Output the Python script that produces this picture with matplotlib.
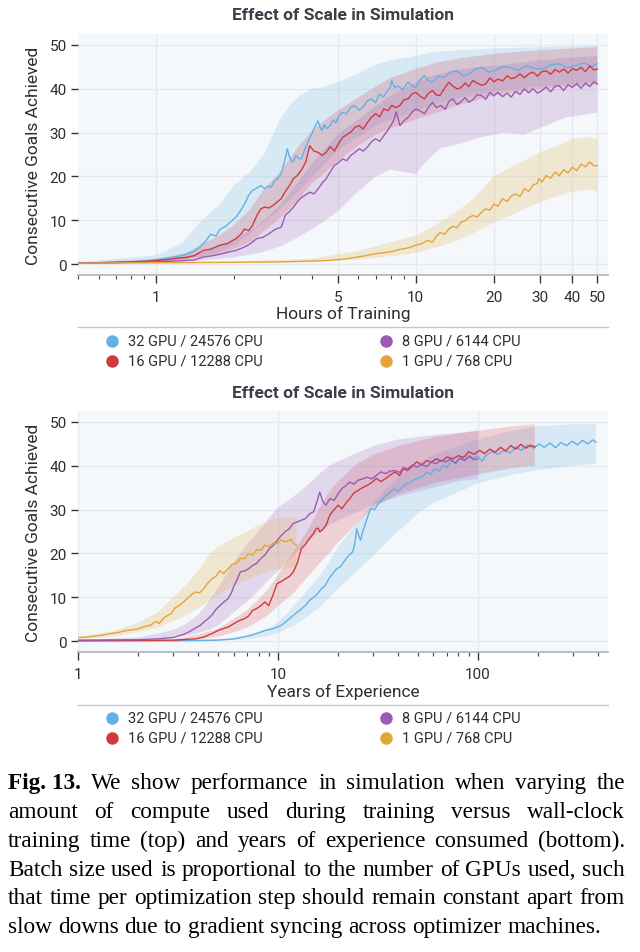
import numpy as np
import matplotlib
matplotlib.use("Agg")
import matplotlib.pyplot as plt
from matplotlib.lines import Line2D
from matplotlib.ticker import FixedLocator, NullFormatter, LogLocator, FixedFormatter

# ---------------- data ----------------
series_names = ["32 GPU / 24576 CPU", "16 GPU / 12288 CPU", "8 GPU / 6144 CPU", "1 GPU / 768 CPU"]
series_colors = ["#63b0e4", "#d2393f", "#9b5bb3", "#e3a537"]

# Top panel: hours of training -> consecutive goals (mean line)
top_blue = [(0.5,0.2),(0.6,0.3),(0.7,0.4),(0.8,0.5),(0.9,0.7),(1.0,1.0),(1.1,1.3),(1.2,1.7),(1.3,2.2),(1.4,2.9),(1.47,3.8),(1.55,5.2),(1.62,6.8),(1.7,6.4),(1.76,7.9),(1.85,8.6),(1.95,9.8),(2.03,10.7),(2.12,12.3),(2.2,13.9),(2.27,15.7),(2.35,16.8),(2.45,17.4),(2.53,17.9),(2.62,17.2),(2.7,17.8),(2.77,17.5),(2.85,18.9),(2.95,19.6),(3.03,20.6),(3.1,22.8),(3.14,24.0),(3.2,26.3),(3.26,24.5),(3.32,23.4),(3.38,23.3),(3.45,24.8),(3.55,24.1),(3.63,24.0),(3.72,25.9),(3.8,27.2),(3.9,28.6),(4.0,30.1),(4.1,31.5),(4.2,32.7),(4.28,31.2),(4.36,30.5),(4.45,31.8),(4.55,30.9),(4.68,31.6),(4.8,32.9),(4.92,32.2),(5.03,33.5),(5.2,34.6),(5.41,34.3),(5.6,35.7),(5.82,36.2),(6.05,35.1),(6.26,35.8),(6.5,37.2),(6.73,37.7),(7.0,36.8),(7.24,38.8),(7.5,38.1),(7.79,39.6),(8.0,40.5),(8.08,41.9),(8.3,40.2),(8.52,40.7),(8.9,39.8),(9.34,41.5),(9.7,40.6),(10.0,40.3),(10.4,42.1),(10.8,43.0),(11.2,41.8),(11.6,41.5),(12.2,42.9),(12.9,42.6),(13.6,43.8),(14.4,44.1),(15.2,42.9),(16.1,43.4),(17.0,44.5),(18.0,44.9),(19.0,43.8),(20.0,44.1),(21.5,45.0),(23.1,44.9),(24.8,44.2),(26.7,45.3),(28.8,44.6),(30.9,44.5),(33.2,45.5),(35.7,45.7),(38.4,44.8),(41.3,45.3),(44.5,45.9),(47.5,45.1),(50.0,45.7)]
top_red = [(0.5,0.2),(0.6,0.3),(0.7,0.4),(0.8,0.5),(0.9,0.6),(1.0,0.8),(1.1,1.0),(1.2,1.3),(1.3,1.5),(1.4,1.9),(1.52,3.1),(1.62,3.4),(1.76,4.3),(1.88,4.7),(2.03,5.8),(2.12,6.8),(2.19,8.0),(2.27,7.6),(2.35,8.8),(2.44,11.0),(2.53,12.6),(2.62,13.0),(2.72,12.8),(2.82,13.4),(2.93,14.2),(3.03,14.9),(3.14,16.5),(3.26,17.9),(3.38,19.5),(3.5,20.2),(3.63,21.5),(3.77,23.3),(3.9,27.0),(4.05,25.8),(4.2,25.5),(4.36,24.8),(4.52,25.5),(4.68,26.8),(4.86,25.8),(5.05,27.6),(5.23,28.9),(5.42,29.5),(5.62,30.1),(5.83,31.2),(6.05,31.6),(6.27,30.8),(6.51,32.3),(6.75,33.5),(7.0,34.3),(7.26,33.6),(7.53,35.4),(7.8,35.0),(8.08,36.2),(8.38,35.7),(8.69,36.2),(9.0,37.5),(9.34,37.7),(9.67,38.8),(10.0,39.2),(10.4,38.3),(10.8,37.7),(11.2,39.0),(11.6,39.6),(12.0,38.6),(12.4,38.5),(12.9,40.1),(13.4,41.5),(13.9,40.6),(14.4,40.0),(14.9,40.2),(15.5,41.3),(16.0,40.5),(16.6,41.9),(17.2,41.3),(17.9,40.8),(18.6,41.1),(19.3,42.5),(20.0,41.6),(20.7,42.2),(21.6,41.8),(22.5,43.0),(23.3,42.3),(24.2,42.6),(25.2,43.4),(26.2,42.5),(27.2,43.4),(28.3,43.8),(29.4,42.9),(30.6,43.9),(31.8,44.1),(33.1,43.3),(34.4,44.4),(35.7,43.8),(37.1,44.5),(38.6,43.6),(40.1,44.6),(41.7,44.2),(43.3,44.9),(45.0,43.9),(46.8,45.2),(48.5,44.3),(50.0,44.5)]
top_purple = [(0.5,0.2),(0.6,0.25),(0.7,0.3),(0.8,0.4),(0.9,0.45),(1.0,0.5),(1.2,0.7),(1.4,0.9),(1.52,1.6),(1.65,1.9),(1.78,2.3),(1.89,2.7),(2.03,3.1),(2.19,3.9),(2.3,4.6),(2.44,5.8),(2.58,6.1),(2.72,6.9),(2.85,7.8),(2.93,8.1),(3.03,8.4),(3.08,9.5),(3.14,11.1),(3.26,12.0),(3.38,13.0),(3.5,14.2),(3.63,15.2),(3.77,15.8),(3.9,16.4),(4.05,16.0),(4.2,17.1),(4.36,18.5),(4.52,19.5),(4.68,21.0),(4.86,22.5),(5.05,23.2),(5.23,24.0),(5.42,23.6),(5.62,24.8),(5.83,25.5),(6.05,26.3),(6.27,25.8),(6.51,26.7),(6.75,27.9),(7.0,28.6),(7.26,28.0),(7.53,29.3),(7.8,30.5),(8.08,32.0),(8.25,33.0),(8.4,34.7),(8.55,33.2),(8.69,31.6),(9.0,32.7),(9.34,33.5),(9.67,34.6),(10.0,35.4),(10.4,34.9),(10.8,34.3),(11.2,35.8),(11.6,36.9),(12.0,35.7),(12.5,36.2),(13.0,35.3),(13.4,37.1),(13.9,37.7),(14.4,36.4),(14.9,37.0),(15.5,38.0),(16.0,36.9),(16.6,37.5),(17.2,38.6),(17.9,38.5),(18.6,37.6),(19.3,39.2),(20.0,38.4),(20.7,39.2),(21.6,38.2),(22.5,39.0),(23.3,38.1),(24.2,39.4),(25.2,38.7),(26.2,40.0),(27.2,39.1),(28.3,40.0),(29.4,39.0),(30.6,39.6),(31.8,40.4),(33.1,39.3),(34.4,40.6),(35.7,40.7),(37.1,39.6),(38.6,40.9),(40.1,40.3),(41.7,41.2),(43.3,40.1),(45.0,41.3),(46.8,40.5),(48.5,41.6),(50.0,41.1)]
top_yellow = [(0.5,0.2),(0.7,0.25),(1.0,0.3),(1.5,0.35),(2.0,0.4),(2.5,0.45),(3.0,0.5),(3.5,0.6),(4.0,0.7),(4.52,0.8),(5.0,1.0),(5.41,1.2),(5.82,1.5),(6.26,1.8),(6.51,2.0),(6.9,2.3),(7.3,2.5),(7.79,2.7),(8.3,3.0),(8.6,3.3),(9.0,3.5),(9.5,3.8),(10.0,4.3),(10.5,4.6),(11.1,5.4),(11.6,5.0),(12.0,6.3),(12.4,7.2),(12.9,6.8),(13.4,8.0),(13.9,8.6),(14.4,8.3),(14.9,9.5),(15.5,9.9),(16.0,10.6),(16.6,11.1),(17.2,10.7),(17.9,11.8),(18.6,12.6),(19.3,12.3),(20.0,13.7),(20.7,13.2),(21.6,14.9),(22.5,14.3),(23.3,15.5),(24.2,16.0),(25.2,15.4),(26.2,17.2),(27.2,16.6),(28.3,18.0),(29.4,18.4),(29.7,19.5),(30.6,18.7),(31.8,20.2),(33.1,19.6),(34.4,21.0),(35.7,20.2),(37.1,21.5),(38.6,20.8),(40.1,22.1),(41.7,21.3),(43.3,22.8),(45.0,22.2),(46.8,23.3),(48.5,22.4),(50.0,22.5)]

# Top panel bands: (hours, lower, upper)
top_blue_band = [(0.5,0.1,0.4),(1.0,0.6,2.0),(1.27,1.0,5.0),(1.5,1.8,10.0),(1.75,2.8,13.5),(2.0,4.5,18.0),(2.3,7.0,21.0),(2.6,9.5,25.0),(3.0,12.5,33.0),(3.3,15.0,36.5),(3.6,17.0,38.5),(4.0,20.0,40.0),(4.5,23.0,40.5),(5.0,26.0,41.5),(6.0,29.0,43.5),(7.0,31.5,45.5),(8.0,33.0,46.5),(10.0,35.0,47.5),(12.0,36.5,48.5),(15.0,38.0,48.8),(20.0,39.5,49.2),(30.0,40.5,49.5),(50.0,41.5,49.8)]
top_red_band = [(0.5,0.1,0.3),(1.0,0.5,1.2),(1.3,0.9,2.5),(1.5,1.5,4.5),(1.75,2.3,6.5),(2.0,3.5,9.0),(2.3,5.0,12.5),(2.6,7.5,17.0),(3.0,10.5,21.0),(3.5,14.5,26.5),(4.0,18.5,30.5),(4.5,21.0,33.0),(5.0,23.5,35.0),(6.0,27.0,38.0),(7.0,29.5,40.5),(8.0,31.0,42.5),(10.0,33.0,44.5),(12.0,34.5,46.0),(15.0,36.5,47.0),(20.0,38.5,48.0),(30.0,40.0,48.8),(50.0,41.0,49.5)]
top_purple_band = [(0.5,0.1,0.3),(1.0,0.3,0.9),(1.5,0.8,2.6),(2.0,1.5,5.5),(2.5,2.5,9.0),(3.0,4.0,13.5),(3.5,6.0,18.5),(4.0,8.0,23.0),(4.5,10.0,26.5),(5.0,12.0,29.5),(6.0,16.5,33.0),(7.0,20.0,36.0),(8.0,21.5,38.5),(9.0,21.0,40.0),(10.0,20.5,41.5),(11.0,23.5,42.5),(12.5,26.5,43.5),(15.0,27.5,44.5),(18.0,29.0,45.0),(22.0,30.0,45.5),(26.0,29.5,46.0),(30.0,31.0,46.5),(38.0,33.5,47.0),(50.0,34.5,47.5)]
top_yellow_band = [(0.5,0.1,0.3),(2.0,0.2,0.6),(4.0,0.4,1.2),(6.0,1.0,3.0),(8.0,1.8,5.0),(10.0,2.5,6.5),(12.0,3.8,9.0),(14.0,5.0,11.5),(16.0,6.5,14.0),(18.0,8.0,17.0),(20.0,9.5,20.0),(23.0,11.0,22.0),(26.0,12.5,23.5),(30.0,14.0,25.5),(35.0,15.5,27.0),(40.0,16.5,28.5),(45.0,17.0,29.0),(50.0,16.5,28.5)]

# Bottom panel: years of experience -> consecutive goals (mean line)
bot_blue = [(1,0.0),(3,0.05),(5,0.2),(6.05,0.5),(7.13,1.2),(7.8,1.7),(8.6,2.4),(9.45,2.8),(10.4,3.6),(10.9,4.3),(11.4,5.1),(11.9,5.8),(12.5,6.6),(13.1,7.3),(13.7,8.1),(14.4,9.3),(15.1,10.0),(15.8,10.8),(16.5,11.9),(17.2,12.6),(18.0,14.2),(18.8,15.4),(19.7,16.5),(20.6,17.0),(21.6,18.4),(22.6,19.5),(23.6,20.3),(24.2,22.0),(24.8,25.6),(25.4,24.0),(25.9,23.0),(26.5,24.8),(27.9,27.9),(29.1,30.2),(30.4,30.0),(31.9,31.4),(33.3,32.4),(34.9,33.3),(36.5,34.0),(38.2,34.8),(40.0,34.2),(42.0,35.2),(44.0,35.8),(46.0,36.3),(48.5,36.9),(50.5,37.1),(53,37.6),(55.5,38.6),(58,38.0),(61,39.3),(64,38.8),(67,40.1),(70,39.6),(74,41.2),(78,40.5),(82,42.0),(86,41.3),(90,42.4),(95,41.8),(100,42.2),(105,41.0),(110,42.4),(118,43.2),(126,42.6),(135,43.5),(145,42.9),(155,44.3),(165,43.5),(177,44.7),(190,44.0),(203,45.0),(215,44.2),(230,45.2),(245,44.1),(260,45.3),(278,44.6),(296,45.6),(315,44.8),(335,45.8),(355,45.0),(375,45.9),(390,45.4)]
bot_red = [(1,0.1),(2,0.15),(3,0.2),(3.87,0.5),(4.25,0.9),(4.67,1.7),(5.13,2.6),(5.64,3.2),(6.2,4.3),(6.5,4.8),(6.81,5.1),(7.13,5.7),(7.48,7.0),(7.8,7.4),(8.2,8.0),(8.6,8.9),(9.0,8.1),(9.45,10.5),(9.9,13.1),(10.4,13.6),(10.9,14.2),(11.4,14.7),(11.95,15.8),(12.5,17.8),(13.1,21.1),(13.7,22.0),(14.4,23.4),(15.1,24.6),(15.5,25.6),(15.9,25.8),(16.2,24.9),(16.8,25.5),(17.4,26.4),(18.2,28.8),(19.1,30.0),(20.0,31.0),(20.9,30.2),(21.9,31.5),(22.9,32.5),(24.0,33.8),(25.2,34.4),(26.5,35.0),(27.9,35.5),(29.5,36.2),(31.1,37.1),(32.8,36.4),(34.6,37.1),(36.5,37.9),(38.5,38.6),(40.6,37.8),(42.5,39.3),(44.5,38.9),(47,39.9),(49.5,40.9),(52.5,40.2),(55.5,41.2),(58.5,40.8),(62,41.6),(66,41.0),(70,42.0),(75,41.6),(80,42.3),(85,41.9),(90,43.2),(96,42.6),(102,43.5),(108,42.8),(115,43.8),(122,43.1),(130,44.2),(138,43.4),(146,44.6),(155,43.8),(164,44.9),(174,44.0),(183,44.7),(193,44.3)]
bot_purple = [(1,0.2),(1.5,0.25),(2,0.3),(2.5,0.5),(3,0.8),(3.36,1.5),(3.6,2.1),(3.87,3.0),(4.1,3.6),(4.25,4.3),(4.45,5.0),(4.67,5.9),(4.9,7.2),(5.13,8.1),(5.4,9.0),(5.64,9.7),(5.85,11.0),(6.05,12.7),(6.25,14.0),(6.49,15.8),(6.8,16.0),(7.13,16.5),(7.45,17.2),(7.8,17.7),(8.2,18.8),(8.6,19.6),(9.0,20.9),(9.45,21.8),(9.9,22.9),(10.4,24.1),(10.9,25.0),(11.4,25.6),(11.9,26.8),(12.5,27.2),(13.1,27.6),(13.7,27.9),(14.4,29.0),(15.1,29.5),(15.6,31.5),(16.2,34.0),(16.8,31.8),(17.4,31.0),(18.2,32.5),(19.1,32.1),(20.0,33.6),(20.9,34.8),(21.9,35.5),(22.9,36.3),(24.0,35.8),(25.2,36.7),(26.5,37.0),(27.9,37.4),(29.5,37.0),(31.1,37.8),(32.8,38.6),(34.6,38.2),(36.5,38.8),(38.5,38.9),(40.6,38.5),(42.5,39.6),(44.5,39.3),(47,40.2),(49.5,39.7),(52.5,40.3),(55.5,39.8),(58.5,40.8),(62,40.5),(65.5,41.3),(69,40.9),(73,41.5),(77,40.6),(81,41.7),(86,41.2),(91,42.1),(95.5,41.4),(100,41.6)]
bot_yellow = [(1,0.8),(1.1,0.9),(1.2,1.1),(1.31,1.3),(1.45,1.7),(1.6,2.0),(1.75,2.4),(1.9,2.6),(2.0,2.8),(2.15,3.3),(2.31,3.6),(2.45,4.5),(2.55,4.0),(2.66,5.1),(2.8,5.8),(2.92,6.2),(3.05,7.5),(3.2,8.1),(3.35,8.8),(3.52,9.7),(3.7,10.6),(3.87,11.2),(4.05,11.0),(4.25,11.9),(4.45,13.2),(4.67,14.2),(4.9,14.8),(5.13,16.1),(5.35,15.4),(5.64,16.5),(5.9,17.5),(6.2,17.7),(6.5,18.9),(6.81,18.8),(7.1,19.9),(7.48,19.6),(7.85,20.9),(8.2,20.7),(8.6,21.9),(9.0,21.5),(9.45,22.4),(9.9,22.2),(10.4,23.1),(10.9,22.6),(11.6,23.2),(12.0,22.3),(12.4,21.8)]

# Bottom panel bands: (years, lower, upper)
bot_blue_band = [(1,0.0,0.1),(5,0.1,0.4),(7,0.4,1.0),(9,1.2,3.0),(10,1.8,4.2),(12,3.5,8.0),(14,5.5,11.5),(16,7.5,14.5),(18,10.0,18.0),(20,12.0,21.5),(25,16.0,27.0),(30,19.5,31.5),(35,22.5,35.0),(40,25.0,37.5),(50,29.0,40.5),(60,31.5,42.5),(80,34.0,44.5),(100,36.0,46.0),(150,38.0,48.0),(200,39.0,49.0),(300,40.0,49.5),(390,40.5,49.5)]
bot_red_band = [(1,0.05,0.2),(3,0.1,0.4),(4,0.4,1.5),(5,1.0,2.8),(6,2.0,5.0),(7,3.0,7.0),(8,4.5,9.5),(9,6.0,12.0),(10,8.0,15.0),(11,9.5,18.0),(12,11.0,20.5),(14,14.5,25.0),(16,17.5,30.0),(18,20.0,34.0),(20,22.5,36.5),(25,27.0,40.5),(30,30.5,42.5),(40,33.5,44.5),(60,36.0,46.5),(100,38.0,48.0),(150,39.5,49.0),(193,40.0,49.5)]
bot_purple_band = [(1,0.1,0.3),(2,0.3,0.8),(3,0.8,2.5),(3.5,1.2,4.0),(4,1.8,6.0),(4.5,2.5,9.0),(5,3.5,12.0),(5.5,5.0,15.0),(6,6.5,18.0),(7,9.0,22.0),(8,11.5,25.0),(9,14.0,28.0),(10,16.0,30.5),(12,19.5,33.0),(14,22.5,35.5),(16,25.0,38.0),(18,26.5,40.0),(20,27.5,41.0),(25,29.5,43.0),(30,31.0,44.5),(40,33.0,46.0),(60,35.0,47.0),(80,36.5,47.5),(100,37.0,48.0)]
bot_yellow_band = [(1,0.5,1.0),(1.5,1.0,2.3),(2,2.0,4.2),(2.5,3.0,6.5),(3,4.5,10.0),(3.5,6.0,13.0),(4,7.5,16.0),(4.5,9.0,19.5),(5,10.5,21.5),(6,12.5,23.5),(7,14.0,25.0),(8,15.0,26.5),(9,16.0,27.5),(10,16.5,28.0),(11,16.5,28.5),(12.4,17.0,28.0)]

top_xticks = [1, 5, 10, 20, 30, 40, 50]
top_xticklabels = ["1", "5", "10", "20", "30", "40", "50"]
bot_xticks = [1, 10, 100]
bot_xticklabels = ["1", "10", "100"]
yticks = [0, 10, 20, 30, 40, 50]

title_text = "Effect of Scale in Simulation"
ylabel_text = "Consecutive Goals Achieved"
top_xlabel = "Hours of Training"
bot_xlabel = "Years of Experience"

caption_lines = [
    [("Fig. 13.", True), ("We", False), ("show", False), ("performance", False), ("in", False), ("simulation", False), ("when", False), ("varying", False), ("the", False)],
    "amount of compute used during training versus wall-clock",
    "training time (top) and years of experience consumed (bottom).",
    "Batch size used is proportional to the number of GPUs used, such",
    "that time per optimization step should remain constant apart from",
    "slow downs due to gradient syncing across optimizer machines.",
]

# ---------------- figure ----------------
W, H = 640, 953
fig = plt.figure(figsize=(W / 100, H / 100), dpi=100)
fig.patch.set_facecolor("white")

UI_FONT = ["Roboto", "DejaVu Sans"]
TXT = "#2b2e35"
UI_WEIGHT = "normal"


def fx(px):
    return px / W


def fy(py):
    return 1 - py / H


def make_axes(top, bottom):
    return fig.add_axes([fx(78), fy(bottom), fx(608) - fx(78), fy(top) - fy(bottom)])


def style(ax, xticks, xticklabels, xlim):
    ax.set_facecolor("#f4f8fa")
    for s in ["top", "right", "left"]:
        ax.spines[s].set_visible(False)
    ax.spines["bottom"].set_color("#b6bac8")
    ax.spines["bottom"].set_linewidth(1.3)
    ax.set_xscale("log")
    ax.set_xlim(*xlim)
    ax.set_ylim(-2.5, 52.5)
    ax.xaxis.set_major_locator(FixedLocator(xticks))
    ax.xaxis.set_major_formatter(FixedFormatter(xticklabels))
    ax.xaxis.set_minor_locator(LogLocator(base=10, subs=np.arange(1, 10)))
    ax.xaxis.set_minor_formatter(NullFormatter())
    ax.set_yticks(yticks)
    ax.grid(True, which="major", color="#e5e9ed", linewidth=1.0)
    ax.set_axisbelow(True)
    ax.tick_params(axis="y", length=5, width=1.0, color="#333", labelsize=11,
                   labelcolor=TXT, pad=3)
    ax.tick_params(axis="x", which="major", length=6, width=1.0, color="#333",
                   labelsize=11, labelcolor=TXT, pad=5)
    ax.tick_params(axis="x", which="minor", length=3, width=0.8, color="#444")
    for lab in ax.get_xticklabels() + ax.get_yticklabels():
        lab.set_family(UI_FONT)
        lab.set_fontweight(UI_WEIGHT)


def draw_series(ax, line_sets, band_sets):
    for pts, band, col in zip(line_sets, band_sets, series_colors):
        bx = [b[0] for b in band]
        lo = [b[1] for b in band]
        hi = [b[2] for b in band]
        ax.fill(bx + bx[::-1], hi + lo[::-1], color=col, alpha=0.2, lw=0)
        ax.plot([p[0] for p in pts], [p[1] for p in pts], color=col, lw=1.0,
                solid_joinstyle="round")


ax1 = make_axes(35, 276)
style(ax1, top_xticks, top_xticklabels, (0.5, 55))
draw_series(ax1, [top_blue, top_red, top_purple, top_yellow],
            [top_blue_band, top_red_band, top_purple_band, top_yellow_band])

ax2 = make_axes(412, 653)
style(ax2, bot_xticks, bot_xticklabels, (1, 448))
draw_series(ax2, [bot_blue, bot_red, bot_purple, bot_yellow],
            [bot_blue_band, bot_red_band, bot_purple_band, bot_yellow_band])

# titles, labels
for ytitle, yxl, axtop, axbot, xl in [(16, 314, 35, 276, top_xlabel), (393, 692, 412, 653, bot_xlabel)]:
    fig.text(fx(343), fy(ytitle), title_text, ha="center", va="center", fontsize=12.5,
             fontweight="bold", color="#3a3e49", family=UI_FONT)
    fig.text(fx(343), fy(yxl), xl, ha="center", va="center", fontsize=12.5,
             fontweight=UI_WEIGHT, color=TXT, family=UI_FONT)
    fig.text(fx(34), fy((axtop + axbot) / 2), ylabel_text, ha="center", va="center",
             rotation=90, fontsize=12.5, fontweight=UI_WEIGHT, color=TXT, family=UI_FONT)

# legend separators and entries
for ysep, yrow1, yrow2 in [(328, 342, 362), (706, 719, 739)]:
    fig.add_artist(Line2D([fx(78), fx(608)], [fy(ysep), fy(ysep)], color="#c4c7d2",
                          lw=1.0, transform=fig.transFigure))
    slots = [(112, yrow1), (112, yrow2), (386, yrow1), (386, yrow2)]
    for (px, py), name, col in zip(slots, series_names, series_colors):
        fig.add_artist(Line2D([fx(px)], [fy(py)], marker="o", markersize=9, color=col,
                              markeredgewidth=0, linestyle="none", transform=fig.transFigure))
        fig.text(fx(px + 16), fy(py), name, ha="left", va="center", fontsize=10.5,
                 fontweight=UI_WEIGHT, color=TXT, family=UI_FONT)

# caption (justified)
SERIF = ["Liberation Serif", "DejaVu Serif"]
fig.canvas.draw()
renderer = fig.canvas.get_renderer()


def words_of(line):
    if isinstance(line, str):
        return [(w, False) for w in line.split(" ")]
    return line


def measure(word, bold, size):
    t = fig.text(0, 0, word, fontsize=size, family=SERIF,
                 fontweight="bold" if bold else "normal")
    w = t.get_window_extent(renderer).width
    t.remove()
    return w


base = 17.0
ref_line = words_of(caption_lines[4])
sp = measure("a a", False, base) - 2 * measure("a", False, base)
ref_w = sum(measure(w, b, base) for w, b in ref_line) + (len(ref_line) - 1) * sp
CAP_SIZE = base * (617 * 0.985) / ref_w
space_w = measure("a a", False, CAP_SIZE) - 2 * measure("a", False, CAP_SIZE)

left, right = 8, 625
baselines = [789, 818, 847, 876, 904, 933]
for i, line in enumerate(caption_lines):
    ws = words_of(line)
    widths = [measure(w, b, CAP_SIZE) for w, b in ws]
    if i < len(caption_lines) - 1:
        gap = (right - left - sum(widths)) / (len(ws) - 1)
    else:
        gap = space_w
    x = left
    for (w, b), wd in zip(ws, widths):
        fig.text(fx(x), fy(baselines[i]), w, fontsize=CAP_SIZE, family=SERIF,
                 fontweight="bold" if b else "normal", color="black",
                 ha="left", va="baseline")
        x += wd + gap

fig.savefig("out.png", dpi=100)
